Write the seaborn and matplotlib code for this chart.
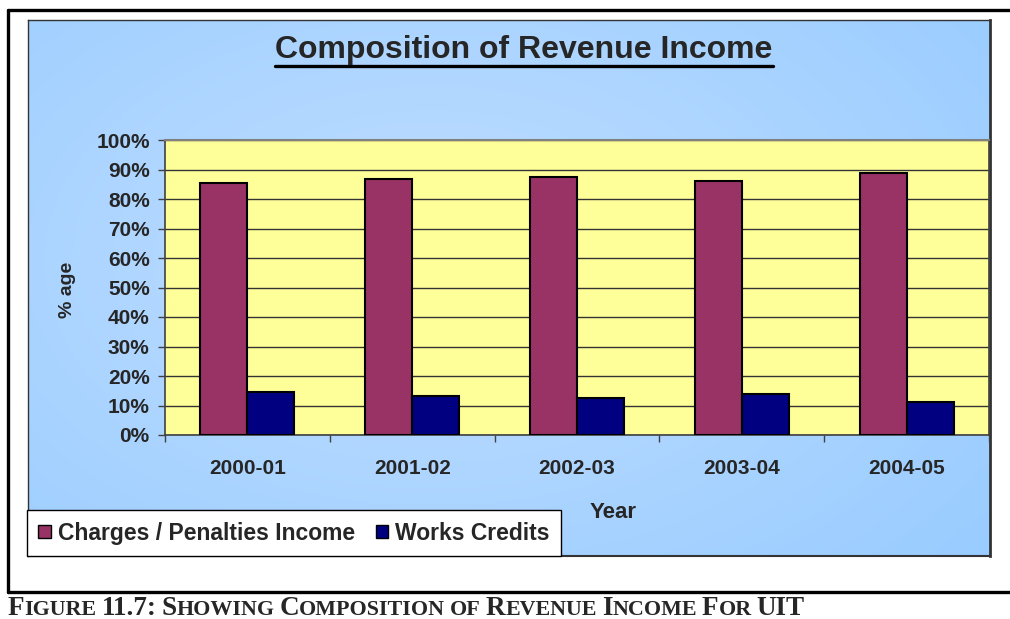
import numpy as np
import pandas as pd
import matplotlib
matplotlib.use("Agg")
import matplotlib.pyplot as plt
import seaborn as sns
from matplotlib.lines import Line2D
from matplotlib.patches import Patch

# ---------------------------------------------------------------------------
# DATA
# ---------------------------------------------------------------------------
YEARS   = ["2000-01", "2001-02", "2002-03", "2003-04", "2004-05"]
CHARGES = [85.3, 86.8, 87.4, 86.1, 88.7]
WORKS   = [14.7, 13.2, 12.6, 13.9, 11.3]
SERIES  = ["Charges / Penalties Income", "Works Credits"]
COLORS  = ["#993366", "#000080"]
Y_TICKS = list(range(0, 101, 10))

TITLE   = "Composition of Revenue Income"
CAPTION = [("F", "L"), ("IGURE", "S"), (" ", ""), ("11.7:", "L"), (" ", ""),
           ("S", "L"), ("HOWING", "S"), (" ", ""), ("C", "L"), ("OMPOSITION", "S"), (" ", ""),
           ("OF", "S"), (" ", ""), ("R", "L"), ("EVENUE", "S"), (" ", ""),
           ("I", "L"), ("NCOME", "S"), (" ", ""), ("F", "L"), ("OR", "S"), (" ", ""),
           ("UIT", "L")]

df = pd.DataFrame({
    "Year": YEARS * 2,
    "Value": CHARGES + WORKS,
    "Series": [SERIES[0]] * len(YEARS) + [SERIES[1]] * len(YEARS),
})

# pixel helpers (figure is 1010 x 619)
W, H = 1010, 619
def fx(px):
    return px / W
def fy(py):
    return 1 - py / H

sns.set_theme(style="white")
plt.rcParams["font.family"] = ["Liberation Sans", "DejaVu Sans"]

fig = plt.figure(figsize=(10.1, 6.19), dpi=100)
fig.patch.set_facecolor("white")

# ---------------------------------------------------------------------------
# chart box with a soft blue gradient
# ---------------------------------------------------------------------------
bg = fig.add_axes([fx(28), fy(556), fx(990) - fx(28), fy(20) - fy(556)], zorder=0)
yy, xx = np.mgrid[0:1:240j, 0:1:400j]
r = np.clip(np.sqrt(((xx - 0.42) / 0.75) ** 2 + ((yy - 0.45) / 0.85) ** 2), 0, 1)
inner = np.array([192, 222, 255]) / 255
outer = np.array([153, 204, 255]) / 255
grad = inner[None, None, :] * (1 - r[..., None]) + outer[None, None, :] * r[..., None]
bg.imshow(grad, aspect="auto", extent=[0, 1, 0, 1], origin="upper")
bg.set_xticks([])
bg.set_yticks([])
for s in bg.spines.values():
    s.set_color("#333333")
    s.set_linewidth(1)
bg.spines["right"].set_linewidth(2)
bg.spines["bottom"].set_linewidth(1.5)

# ---------------------------------------------------------------------------
# bars
# ---------------------------------------------------------------------------
ax = fig.add_axes([fx(165), fy(435), fx(989) - fx(165), fy(140) - fy(435)], zorder=2)
ax.set_facecolor("#ffff99")
sns.barplot(data=df, x="Year", y="Value", hue="Series", palette=COLORS,
            width=0.57, saturation=1, edgecolor="black", linewidth=1.5,
            legend=False, ax=ax, zorder=3)

ax.set_xlim(-0.5, len(YEARS) - 0.5)
ax.set_ylim(0, 100)
ax.set_yticks(Y_TICKS)
ax.set_yticklabels([f"{v}%" for v in Y_TICKS], fontweight="bold", fontsize=15)
ax.set_xticks(range(len(YEARS)))
ax.set_xticklabels(YEARS, fontweight="bold", fontsize=15)
ax.set_xticks(np.arange(-0.5, len(YEARS), 1), minor=True)
ax.yaxis.grid(True, color="#333333", linewidth=1)
ax.set_axisbelow(True)
ax.tick_params(axis="y", left=True, length=5, width=1, color="#404040", pad=6)
ax.tick_params(axis="x", which="major", bottom=True, length=0, pad=17)
ax.tick_params(axis="x", which="minor", bottom=True, length=5, width=1, color="#404040")
ax.set_xlabel("")
ax.set_ylabel("")
for name, s in ax.spines.items():
    s.set_color("#404040")
    s.set_linewidth(1.2)
ax.spines["top"].set_color("#808080")
ax.spines["top"].set_linewidth(1.5)

# ---------------------------------------------------------------------------
# texts
# ---------------------------------------------------------------------------
fig.text(fx(524), fy(50), TITLE, ha="center", va="center",
         fontsize=23, fontweight="bold", zorder=5)
fig.add_artist(Line2D([fx(275), fx(773)], [fy(66), fy(66)], color="black",
                      linewidth=2.4, zorder=5))
fig.text(fx(68), fy(290), "% age", rotation=90, ha="center", va="center",
         fontsize=14, fontweight="bold", zorder=5)
fig.text(fx(613), fy(512), "Year", ha="center", va="center",
         fontsize=16, fontweight="bold", zorder=5)

handles = [Patch(facecolor=c, edgecolor="black", linewidth=1) for c in COLORS]
leg = fig.legend(handles, SERIES, loc="lower left",
                 bbox_to_anchor=(fx(27), fy(556)), ncol=2, frameon=True,
                 fancybox=False, edgecolor="black", framealpha=1,
                 prop={"weight": "bold", "size": 16.5}, handlelength=0.55,
                 handleheight=0.55, columnspacing=0.9, handletextpad=0.3,
                 borderpad=0.5, borderaxespad=0)
leg.get_frame().set_linewidth(1)
leg.set_zorder(6)

# outer frame of the page figure
fig.add_artist(Line2D([fx(8), fx(1010)], [fy(10), fy(10)], color="black", linewidth=2.4))
fig.add_artist(Line2D([fx(8), fx(8)], [fy(10), fy(592)], color="black", linewidth=2.4))
fig.add_artist(Line2D([fx(8), fx(1010)], [fy(592), fy(592)], color="black", linewidth=2.4))

# caption in small caps
fig.canvas.draw()
renderer = fig.canvas.get_renderer()
x = 8
for part, kind in CAPTION:
    if kind == "":
        x += 5
        continue
    size = 19.5 if kind == "L" else 15.8
    t = fig.text(fx(x), fy(615), part, ha="left", va="baseline", fontsize=size,
                 fontweight="bold", family=["Liberation Serif", "DejaVu Serif"])
    x += t.get_window_extent(renderer).width

fig.savefig("out.png", dpi=100, facecolor="white")
